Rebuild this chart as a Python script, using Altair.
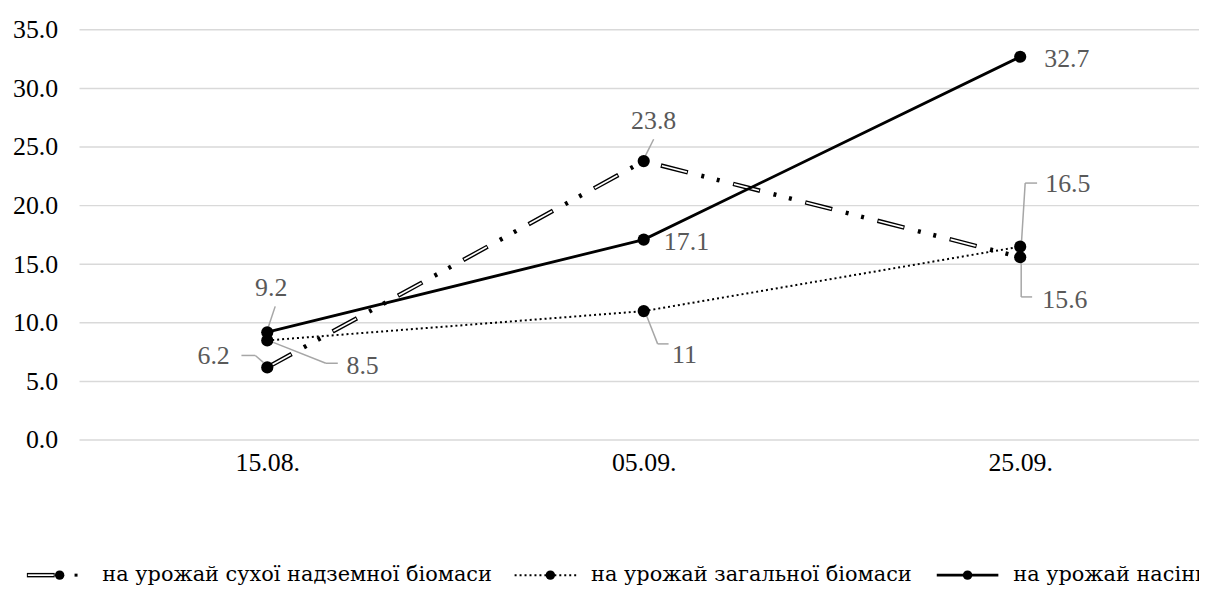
import altair as alt
import pandas as pd

# ---- data ----
dates = ["15.08.", "05.09.", "25.09."]
series_keys = ["A", "B", "C"]
series_names = [
    "на урожай сухої надземної біомаси",
    "на урожай загальної біомаси",
    "на урожай насіння",
]
dry_biomass = [6.2, 23.8, 15.6]
total_biomass = [8.5, 11.0, 16.5]
seeds = [9.2, 17.1, 32.7]
y_ticks = [0, 5, 10, 15, 20, 25, 30, 35]

rows = []
for key, vals in zip(series_keys, [dry_biomass, total_biomass, seeds]):
    for i, (d, v) in enumerate(zip(dates, vals)):
        rows.append({"series": key, "date": d, "idx": i, "value": v, "label": f"{v:g}"})
df = pd.DataFrame(rows)

W, H = 1127, 413
FONT = "'Liberation Serif', 'Times New Roman', serif"
LEG_FONT = "'DejaVu Serif', serif"  # serif face with Cyrillic glyphs
FS = 26
LFS = 21

x_enc = alt.X(
    "date:N", sort=dates, title=None,
    scale=alt.Scale(type="point", padding=0, range=[189, 947]),
    axis=alt.Axis(labelAngle=0, domain=False, ticks=False, grid=False,
                  labelPadding=10, labelFontSize=FS, labelColor="#000", labelFont=FONT),
)
y_enc = alt.Y(
    "value:Q", title=None, scale=alt.Scale(domain=[0, 35], nice=False),
    axis=alt.Axis(values=y_ticks, format=".1f", grid=False,
                  domain=False, ticks=False, labelPadding=22, labelFontSize=FS,
                  labelColor="#000", labelFont=FONT),
)

base = alt.Chart(df)


def sel(s, d=None):
    if d is None:
        return base.transform_filter(alt.datum.series == s)
    return base.transform_filter((alt.datum.series == s) & (alt.datum.date == d))


layers = []

# horizontal gridlines
grid = alt.Chart(pd.DataFrame({"value": y_ticks})).mark_rule(color="#d9d9d9", strokeWidth=1.5).encode(
    y=y_enc, x=alt.value(0), x2=alt.value(W))
layers.append(grid)

# series A: double line, long dash dot dot
layers.append(sel("A").mark_line(color="black", strokeWidth=4.5, strokeDash=[28, 14, 3, 13, 3, 14],
                                 strokeCap="butt").encode(x=x_enc, y=y_enc, order="idx:Q"))
layers.append(sel("A").mark_line(color="white", strokeWidth=1.7, strokeDash=[26, 49], strokeDashOffset=74,
                                 strokeCap="butt").encode(x=x_enc, y=y_enc, order="idx:Q"))
# series B: dotted
layers.append(sel("B").mark_line(color="black", strokeWidth=2, strokeDash=[2, 3],
                                 strokeCap="butt").encode(x=x_enc, y=y_enc, order="idx:Q"))
# series C: solid
layers.append(sel("C").mark_line(color="black", strokeWidth=2.8).encode(x=x_enc, y=y_enc, order="idx:Q"))

# leader lines (pixel offsets from the data point)
leaders = [
    ("A", "15.08.", -4, -5, -12, -12), ("A", "15.08.", -12, -12, -26, -12),
    ("A", "05.09.", 1, -4, 10, -22),
    ("A", "25.09.", 1, 3, 1, 40), ("A", "25.09.", 1, 40, 12, 40),
    ("B", "15.08.", 6, 2, 59, 23), ("B", "15.08.", 59, 23, 71, 23),
    ("B", "05.09.", 3, 5, 14, 33), ("B", "05.09.", 14, 33, 25, 33),
    ("B", "25.09.", 1, 0, 5, -64), ("B", "25.09.", 5, -64, 17, -64),
    ("C", "15.08.", 1, -5, 8, -26),
]
for s, d, x1, y1, x2, y2 in leaders:
    layers.append(
        sel(s, d).mark_rule(color="#a6a6a6", strokeWidth=1.5,
                            xOffset=x1, yOffset=y1, x2Offset=x2, y2Offset=y2)
        .encode(x=x_enc, y=y_enc, x2="date:N", y2="value:Q")
    )

# markers
layers.append(base.mark_circle(color="black", opacity=1, size=150).encode(x=x_enc, y=y_enc))

# data labels
label_offsets = [
    ("A", "15.08.", -54, -11), ("A", "05.09.", 10, -40), ("A", "25.09.", 45, 43),
    ("B", "15.08.", 96, 26), ("B", "05.09.", 41, 44), ("B", "25.09.", 48, -63),
    ("C", "15.08.", 4, -44), ("C", "05.09.", 43, 2), ("C", "25.09.", 47, 2),
]
for s, d, dx, dy in label_offsets:
    layers.append(
        sel(s, d).mark_text(font=FONT, fontSize=FS, color="#595959", align="center",
                            baseline="middle", dx=dx, dy=dy)
        .encode(x=x_enc, y=y_enc, text="label:N")
    )

# ---- manual legend ----
LY = H + 136
leg = []


def ldata(i):
    return alt.Chart(pd.DataFrame({"t": [series_names[i]]}))


# item 1: double dash-dot-dot line
leg.append(ldata(0).mark_rule(color="black", strokeWidth=4.5, strokeCap="butt").encode(
    x=alt.value(-53), x2=alt.value(-25), y=alt.value(LY)))
leg.append(ldata(0).mark_rule(color="white", strokeWidth=1.7, strokeCap="butt").encode(
    x=alt.value(-52), x2=alt.value(-26), y=alt.value(LY)))
leg.append(ldata(0).mark_circle(color="black", opacity=1, size=90).encode(
    x=alt.value(-20), y=alt.value(LY)))
leg.append(ldata(0).mark_rule(color="black", strokeWidth=3, strokeCap="butt").encode(
    x=alt.value(-5), x2=alt.value(-2), y=alt.value(LY)))
# item 2: dotted
leg.append(ldata(1).mark_rule(color="black", strokeWidth=2, strokeDash=[2, 3], strokeCap="butt").encode(
    x=alt.value(438), x2=alt.value(500), y=alt.value(LY)))
leg.append(ldata(1).mark_circle(color="black", opacity=1, size=90).encode(
    x=alt.value(474), y=alt.value(LY)))
# item 3: solid
leg.append(ldata(2).mark_rule(color="black", strokeWidth=2.8).encode(
    x=alt.value(863), x2=alt.value(925), y=alt.value(LY)))
leg.append(ldata(2).mark_circle(color="black", opacity=1, size=90).encode(
    x=alt.value(894), y=alt.value(LY)))
for i, tx in enumerate([23, 515, 940]):
    leg.append(ldata(i).mark_text(font=LEG_FONT, fontSize=LFS, color="black", align="left",
                                  baseline="middle").encode(
        x=alt.value(tx), y=alt.value(LY), text="t:N"))

chart = (
    alt.layer(*layers, *leg)
    .properties(
        width=W, height=H,
        autosize=alt.AutoSizeParams(type="none"),
        padding={"left": 72, "top": 20, "right": 0, "bottom": 148},
    )
    .configure(font=FONT)
    .configure_view(stroke=None)
)

chart.save("out.html", embed_options={"renderer": "svg", "actions": False})
